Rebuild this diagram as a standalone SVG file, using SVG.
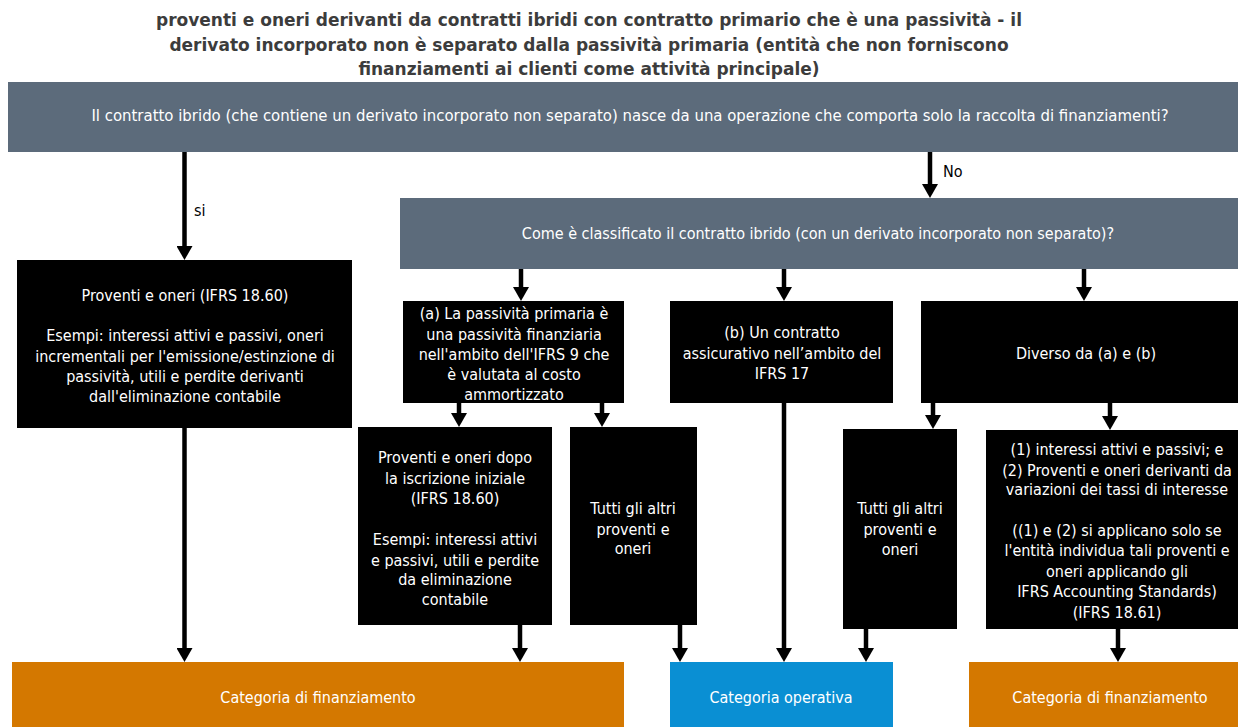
<svg xmlns="http://www.w3.org/2000/svg" width="1238" height="727" viewBox="0 0 1238 727">
  <defs>
    <style>
      .t { font-family: 'DejaVu Sans Condensed', 'DejaVu Sans', sans-serif; font-stretch: condensed; font-size: 16px; fill: #ffffff; text-anchor: middle; }
      .big { font-size: 16.6px; }
      .title { font-family: 'DejaVu Sans', sans-serif; font-weight: bold; font-size: 17px; fill: #3c3c3c; text-anchor: middle; }
      .lbl { font-family: 'DejaVu Sans Condensed', 'DejaVu Sans', sans-serif; font-stretch: condensed; font-size: 16px; fill: #000000; }
      .q { fill: #5c6b7b; }
      .k { fill: #000000; }
      .fin { fill: #d47800; }
      .op { fill: #0a8fd3; }
      .c { stroke: #000000; stroke-width: 4.5; fill: none; marker-end: url(#ah); }
    </style>
    <marker id="ah" markerUnits="userSpaceOnUse" markerWidth="14" markerHeight="16" viewBox="0 0 14 16" refX="2" refY="8" orient="auto">
      <path d="M0,0 L14,8 L0,16 Z" fill="#000000"/>
    </marker>
  </defs>

  <rect width="1238" height="727" fill="#ffffff"/>

  <g id="title">
    <text class="title" x="589" y="26">proventi e oneri derivanti da contratti ibridi con contratto primario che è una passività - il</text>
    <text class="title" x="589" y="51">derivato incorporato non è separato dalla passività primaria (entità che non forniscono</text>
    <text class="title" x="589" y="75">finanziamenti ai clienti come attività principale)</text>
  </g>

  <!-- connectors: each path ends 12px above the target edge, the marker supplies the head -->
  <g id="connectors">
    <path class="c" d="M184.5,152 V248"/>
    <path class="c" d="M930,152 V186"/>
    <path class="c" d="M521,269 V289"/>
    <path class="c" d="M784,269 V289"/>
    <path class="c" d="M1084,269 V289"/>
    <path class="c" d="M459,403 V415"/>
    <path class="c" d="M602,403 V415"/>
    <path class="c" d="M784,403 V650"/>
    <path class="c" d="M933,403 V417"/>
    <path class="c" d="M1110,403 V418"/>
    <path class="c" d="M184.5,428 V650"/>
    <path class="c" d="M520,625 V650"/>
    <path class="c" d="M680,625 V650"/>
    <path class="c" d="M866,629 V650"/>
    <path class="c" d="M1118,629 V650"/>
    <text class="lbl" x="194" y="216">si</text>
    <text class="lbl" x="943" y="177">No</text>
  </g>

  <g id="q-raccolta">
    <rect class="q" x="8" y="82" width="1230" height="70"/>
    <text class="t big" x="630" y="121">Il contratto ibrido (che contiene un derivato incorporato non separato) nasce da una operazione che comporta solo la raccolta di finanziamenti?</text>
  </g>

  <g id="q-classificazione">
    <rect class="q" x="400" y="198" width="838" height="71"/>
    <text class="t" x="818" y="239">Come è classificato il contratto ibrido (con un derivato incorporato non separato)?</text>
  </g>

  <g id="proventi-oneri">
    <rect class="k" x="17" y="260" width="335" height="168"/>
    <text class="t" x="185" y="301">Proventi e oneri (IFRS 18.60)</text>
    <text class="t" x="185" y="341">Esempi: interessi attivi e passivi, oneri</text>
    <text class="t" x="185" y="362">incrementali per l'emissione/estinzione di</text>
    <text class="t" x="185" y="382">passività, utili e perdite derivanti</text>
    <text class="t" x="185" y="402">dall'eliminazione contabile</text>
  </g>

  <g id="caso-a">
    <rect class="k" x="403" y="301" width="221" height="102"/>
    <text class="t" x="514" y="319">(a) La passività primaria è</text>
    <text class="t" x="514" y="340">una passività finanziaria</text>
    <text class="t" x="514" y="360">nell'ambito dell'IFRS 9 che</text>
    <text class="t" x="514" y="380">è valutata al costo</text>
    <text class="t" x="514" y="400">ammortizzato</text>
  </g>

  <g id="caso-b">
    <rect class="k" x="670" y="301" width="223" height="102"/>
    <text class="t" x="782" y="338">(b) Un contratto</text>
    <text class="t" x="782" y="359">assicurativo nell’ambito del</text>
    <text class="t" x="782" y="379">IFRS 17</text>
  </g>

  <g id="caso-diverso">
    <rect class="k" x="921" y="301" width="317" height="102"/>
    <text class="t" x="1086" y="359">Diverso da (a) e (b)</text>
  </g>

  <g id="dopo-iscrizione">
    <rect class="k" x="358" y="427" width="194" height="198"/>
    <text class="t" x="455" y="463">Proventi e oneri dopo</text>
    <text class="t" x="455" y="484">la iscrizione iniziale</text>
    <text class="t" x="455" y="504">(IFRS 18.60)</text>
    <text class="t" x="455" y="545">Esempi: interessi attivi</text>
    <text class="t" x="455" y="566">e passivi, utili e perdite</text>
    <text class="t" x="455" y="585">da eliminazione</text>
    <text class="t" x="455" y="605">contabile</text>
  </g>

  <g id="altri-a">
    <rect class="k" x="570" y="427" width="127" height="198"/>
    <text class="t" x="633" y="514">Tutti gli altri</text>
    <text class="t" x="633" y="535">proventi e</text>
    <text class="t" x="633" y="554">oneri</text>
  </g>

  <g id="altri-diverso">
    <rect class="k" x="843" y="429" width="114" height="200"/>
    <text class="t" x="900" y="514">Tutti gli altri</text>
    <text class="t" x="900" y="535">proventi e</text>
    <text class="t" x="900" y="555">oneri</text>
  </g>

  <g id="interessi">
    <rect class="k" x="986" y="430" width="252" height="199"/>
    <text class="t" x="1117" y="455">(1) interessi attivi e passivi; e</text>
    <text class="t" x="1117" y="476">(2) Proventi e oneri derivanti da</text>
    <text class="t" x="1117" y="495">variazioni dei tassi di interesse</text>
    <text class="t" x="1117" y="536">((1) e (2) si applicano solo se</text>
    <text class="t" x="1117" y="556">l'entità individua tali proventi e</text>
    <text class="t" x="1117" y="577">oneri applicando gli</text>
    <text class="t" x="1117" y="597"> IFRS Accounting Standards)</text>
    <text class="t" x="1117" y="618">(IFRS 18.61)</text>
  </g>

  <g id="cat-finanziamento-1">
    <rect class="fin" x="12" y="662" width="612" height="65"/>
    <text class="t" x="318" y="703">Categoria di finanziamento</text>
  </g>

  <g id="cat-operativa">
    <rect class="op" x="670" y="662" width="223" height="65"/>
    <text class="t" x="781" y="703">Categoria operativa</text>
  </g>

  <g id="cat-finanziamento-2">
    <rect class="fin" x="969" y="662" width="269" height="65"/>
    <text class="t" x="1110" y="703">Categoria di finanziamento</text>
  </g>
</svg>
